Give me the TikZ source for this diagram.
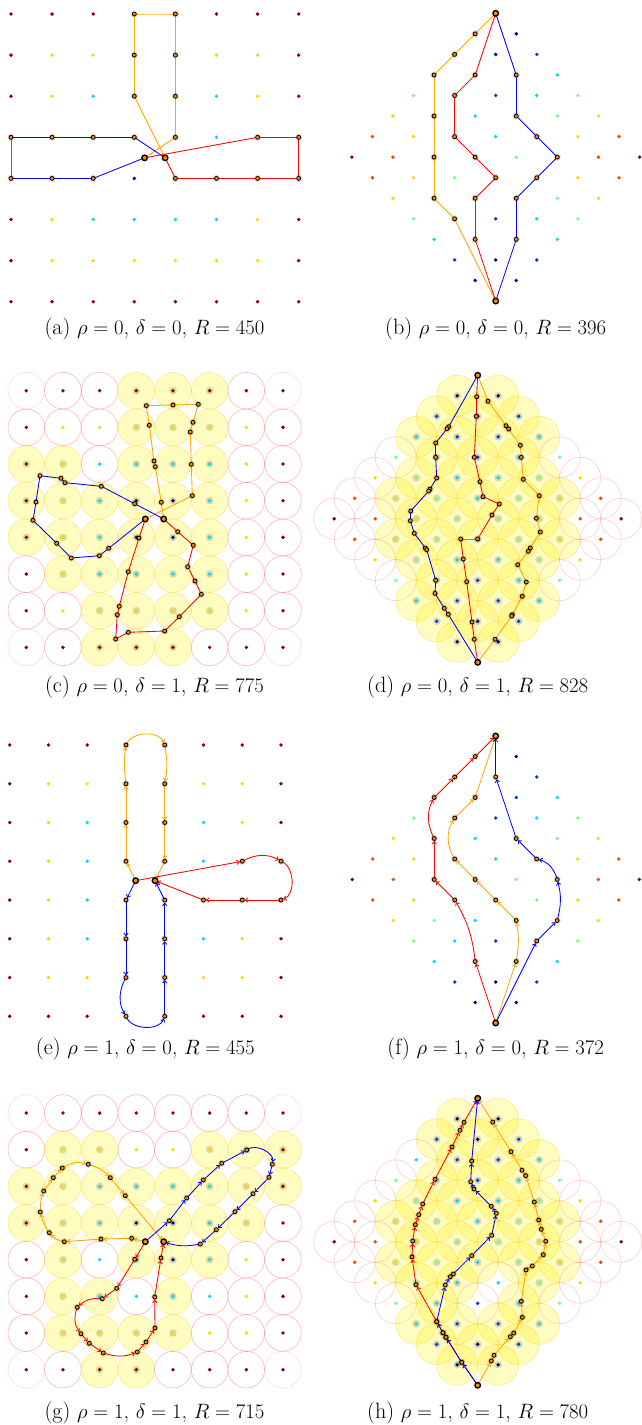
\documentclass[tikz,border=0pt]{standalone}
\usetikzlibrary{arrows.meta}

\pgfdeclarelayer{marks}
\pgfsetlayers{main,marks}

% colour scale of the grid points
\definecolor{jet0}{rgb}{0,0,0.55}
\definecolor{jet1}{rgb}{0,0.22,1}
\definecolor{jet2}{rgb}{0,0.85,1}
\definecolor{jet3}{rgb}{0.48,1,0.5}
\definecolor{jet4}{rgb}{1,0.84,0}
\definecolor{jet5}{rgb}{1,0.27,0}
\definecolor{jet6}{rgb}{0.55,0,0}
\definecolor{pathorange}{rgb}{1,0.65,0}
\definecolor{markorange}{rgb}{1,0.55,0}

\tikzset{
  trailline/.style={line width=0.85pt, line join=round, line cap=round},
  arrowed/.style={-{Straight Barb[length=2.5pt,width=4.4pt]}, shorten >=2.5pt},
  halo/.style={fill=black, fill opacity=0.13},
  mk/.style={draw=black, line width=0.8pt, fill=markorange},
  startmk/.style={draw=black, line width=1.3pt, fill=markorange},
  yellowdisc/.style={fill=yellow, fill opacity=0.25, draw=orange!50!yellow, draw opacity=0.35, line width=0.6pt},
  pinkring/.style={draw=red, draw opacity=0.28, line width=0.6pt},
  paleing/.style={draw=red, draw opacity=0.14, line width=0.6pt},
  dothalo/.style={fill=black, fill opacity=0.14},
  caplabel/.style={anchor=base, inner sep=0pt, font=\fontsize{22.2}{26}\selectfont},
}

% #1 extra style, #2 colour, #3/#4 first point, #5 list x/y/bend
\newcommand{\trail}[5][]{%
  \foreach \tx/\ty/\tb [remember=\tx as \px (initially #3), remember=\ty as \py (initially #4)] in {#5}
    {\draw[trailline,#2,#1] (\px,\py) to[bend left=\tb] (\tx,\ty);}
  \begin{pgfonlayer}{marks}
    \foreach \tx/\ty/\tb in {#3/#4/0,#5}
      {\fill[halo] (\tx,\ty) circle[radius=3.6pt];
       \draw[mk] (\tx,\ty) circle[radius=2pt];}
  \end{pgfonlayer}}

% the two big markers
\newcommand{\bigpins}[4]{%
  \begin{pgfonlayer}{marks}
    \draw[startmk] (#1,#2) circle[radius=2.7pt];
    \draw[startmk] (#3,#4) circle[radius=2.7pt];
  \end{pgfonlayer}}

% 8x8 square grid of dots
\newcommand{\squaredots}{%
  \foreach \cl in {0,...,7} \foreach \rw in {0,...,7}{
    \pgfmathtruncatemacro\lv{2*max(abs(\cl-3.5),abs(\rw-3.5))-1}
    \fill[fill=jet\lv] (\cl,\rw) circle[radius=1.9pt];}}

% discs of the square grid, #1 = rows rw/mask of yellow discs
\newcommand{\squarediscs}[1]{%
  \foreach \rw/\mask in {#1} \foreach \cl in {0,...,7}{
    \pgfmathtruncatemacro\bit{mod(floor(\mask/2^\cl),2)}
    \pgfmathtruncatemacro\corner{and(or(\cl==0,\cl==7),or(\rw==0,\rw==7))}
    \ifnum\bit=1 \filldraw[yellowdisc] (\cl,\rw) circle[radius=18.3pt];
      \fill[dothalo] (\cl,\rw) circle[radius=3.8pt];
    \else
      \ifnum\corner=1 \draw[paleing] (\cl,\rw) circle[radius=18.3pt];
      \else \draw[pinkring] (\cl,\rw) circle[radius=18.3pt]; \fi
    \fi}}

% rotated grid of dots
\newcommand{\diamonddots}{%
  \foreach \u in {0,...,7} \foreach \v in {0,...,7}{
    \pgfmathtruncatemacro\lv{(abs(\u-\v)+7-abs(\u+\v-7))/2-1}
    \ifnum\lv>-1 \fill[fill=jet\lv] (\u,\v) circle[radius=1.9pt]; \fi}}

% discs of the rotated grid, #1 = rows u/mask of pink rings
\newcommand{\diamonddiscs}[1]{%
  \foreach \u/\mask in {#1} \foreach \v in {0,...,7}{
    \pgfmathtruncatemacro\lv{(abs(\u-\v)+7-abs(\u+\v-7))/2-1}
    \pgfmathtruncatemacro\bit{mod(floor(\mask/2^\v),2)}
    \ifnum\lv>-1
      \ifnum\bit=1 \draw[pinkring, draw opacity=0.2] (\u,\v) circle[radius=20.5pt];
      \else \filldraw[yellowdisc] (\u,\v) circle[radius=20.5pt]; \fi
    \fi}
  \foreach \u/\mask in {#1} \foreach \v in {0,...,7}{
    \pgfmathtruncatemacro\lv{(abs(\u-\v)+7-abs(\u+\v-7))/2-1}
    \pgfmathtruncatemacro\bit{mod(floor(\mask/2^\v),2)}
    \ifnum\lv>-1
      \ifnum\bit=0 \fill[dothalo] (\u,\v) circle[radius=3.8pt]; \fi
      \fill[fill=jet\lv] (\u,\v) circle[radius=1.9pt];
    \fi}}

\begin{document}
\begin{tikzpicture}[x=1pt,y=-1pt]
\useasboundingbox (0,0) rectangle (642,1425);

% (a)
\begin{scope}[shift={(11,14)},x=41.1pt,y=-41.1pt]
  \squaredots
  \trail{pathorange}{3.25}{3.5}{4/3/0, 4/2/0, 4/1/0, 4/0/0, 3/0/0, 3/1/0, 3/2/0, 3.75/3.5/0}
  \trail{blue}{3.25}{3.5}{2/4/0, 1/4/0, 0/4/0, 0/3/0, 1/3/0, 2/3/0, 3/3/0, 3.75/3.5/0}
  \trail{red}{3.25}{3.5}{6/3/0, 7/3/0, 7/4/0, 6/4/0, 5/4/0, 4/4/0, 3.75/3.5/0}
  \bigpins{3.25}{3.5}{3.75}{3.5}
\end{scope}
\node[caplabel] (capa) at (154.5,334) {(a) $\rho = 0$, $\delta = 0$, $R = 450$};

% (b)
\begin{scope}[shift={(495.7,13.3)},x={(20.55pt,-20.55pt)},y={(-20.55pt,-20.55pt)}]
  \diamonddots
  \trail{pathorange}{0}{0}{0/1/0, 0/2/0, 0/3/0, 1/4/0, 2/5/0, 3/6/0, 4/6/0, 7/7/0}
  \trail{red}{0}{0}{1/2/0, 1/3/0, 2/4/0, 3/4/0, 4/4/0, 4/5/0, 5/6/0, 7/7/0}
  \trail{blue}{0}{0}{2/1/0, 3/2/0, 4/2/0, 5/2/0, 5/3/0, 5/4/0, 6/5/0, 7/7/0}
  \bigpins{0}{0}{7}{7}
\end{scope}
\node[caplabel] (capb) at (495.7,334) {(b) $\rho = 0$, $\delta = 0$, $R = 396$};

% (c)
\begin{scope}[shift={(26.3,390.7)},x=36.67pt,y=-36.67pt]
  \squarediscs{0/56, 1/56, 2/59, 3/63, 4/63, 5/62, 6/60, 7/28}
  \squaredots
\end{scope}
\trail{pathorange}{145.3}{519}{192.3/495.7/0, 191.3/464.3/0, 190.3/432/0, 193/422.3/0, 198.3/404.3/0,
  173/405/0, 146.3/405.7/0, 149.3/425.3/0, 154/461/0, 155.3/466.7/0, 161.3/502.3/0, 163.7/519/0}
\trail{blue}{163.7}{519}{134.7/503.7/0, 101.3/486.3/0, 65/482.7/0, 61/478.3/0, 40/475.7/0, 36/502/0,
  33/520.3/0, 56.7/543.3/0, 71.3/558/0, 99.3/555.7/0, 108.7/548.3/0, 145.3/519/0}
\trail{red}{145.3}{519}{139/538/0, 128.3/571.7/0, 119.3/606.3/0, 117.3/614.7/0, 115.7/639/0, 128.3/632.3/0,
  164.7/631/0, 179.3/616.7/0, 201.3/594.3/0, 195/581/0, 187.7/566.7/0, 193.3/545.3/0, 177.7/531.7/0, 163.7/519/0}
\bigpins{145.3}{519}{163.7}{519}
\node[caplabel] (capc) at (154.5,692) {(c) $\rho = 0$, $\delta = 1$, $R = 775$};

% (d)
\begin{scope}[shift={(477.7,375.3)},x={(20.5pt,-20.5pt)},y={(-20.5pt,-20.5pt)}]
  \diamonddiscs{0/240, 1/192, 2/128, 3/128, 4/1, 5/1, 6/3, 7/15}
\end{scope}
\trail{blue}{477.7}{375.3}{448.7/426.7/0, 447/428.7/0, 435.7/443/0, 435.7/457.3/0, 436.7/478/0, 430/489/0,
  428.7/491/0, 410.7/511/0, 410.3/520.7/0, 414.3/533.3/0, 425.3/548/0, 426.7/549.7/0, 435.7/580.3/0,
  435/593.3/0, 444.3/608.3/0, 448.3/614.3/0, 477.7/662.3/0}
\trail{red}{477.7}{375.3}{476.7/396.7/0, 476.3/416.3/0, 474.3/457.3/0, 480/481.7/0, 483/496.7/0,
  499.3/504/0, 492/515/0, 477.7/539/0, 460.7/539/0, 463.3/559/0, 466.7/581.7/0, 472/622/0,
  474.3/639.3/0, 477.7/662.3/0}
\trail{pathorange}{477.7}{375.3}{488/401.3/0, 506/425.7/0, 508.7/429/0, 520.3/445.3/0, 521.3/457.3/0,
  523.3/479.3/0, 539.3/495.7/0, 536.3/518.3/0, 540.3/532/0, 530.3/548/0, 528.3/551.3/0, 517.7/564.7/0,
  526.3/582/0, 522.3/596.3/0, 512.3/614.7/0, 511.7/616/0, 495/639.3/0, 477.7/662.3/0}
\bigpins{477.7}{375.3}{477.7}{662.3}
\node[caplabel] (capd) at (477.7,692) {(d) $\rho = 0$, $\delta = 1$, $R = 828$};

% (e)
\begin{scope}[shift={(9.7,745)},x=38.76pt,y=-38.76pt]
  \squaredots
  \trail[arrowed]{pathorange}{3.25}{3.5}{3/3/0, 3/2/0, 3/1/0, 3/0/8, 4/0/70, 4/1/10, 4/2/0, 4/3/0, 3.75/3.5/0}
  \trail[arrowed]{red}{3.25}{3.5}{6/3/0, 7/3/30, 7/4/70, 6/4/0, 5/4/0, 3.75/3.5/0}
  \trail[arrowed]{blue}{3.25}{3.5}{3/4/0, 3/5/0, 3/6/0, 3/7/-30, 4/7/-70, 4/6/0, 4/5/0, 4/4/0, 3.75/3.5/0}
  \bigpins{3.25}{3.5}{3.75}{3.5}
\end{scope}
\node[caplabel] (cape) at (145.3,1054) {(e) $\rho = 1$, $\delta = 0$, $R = 455$};

% (f)
\begin{scope}[shift={(495.7,736)},x={(20.5pt,-20.5pt)},y={(-20.5pt,-20.5pt)}]
  \diamonddots
  \trail[arrowed]{red}{7}{7}{5/6/0, 3/5/-12, 2/5/0, 1/4/0, 0/3/28, 0/2/0, 0/1/0, 0/0/0}
  \trail[arrowed]{pathorange}{7}{7}{6/5/0, 5/4/-10, 4/4/0, 3/4/0, 2/4/0, 1/3/32, 1/2/0, 0/0/0}
  \trail[arrowed]{blue}{7}{7}{6/4/0, 6/3/0, 5/2/-15, 4/2/-30, 3/2/0, 1/1/0, 0/0/0}
  \bigpins{0}{0}{7}{7}
\end{scope}
\node[caplabel] (capf) at (495.7,1054) {(f) $\rho = 1$, $\delta = 0$, $R = 372$};

% (g)
\begin{scope}[shift={(26.3,1113)},x=36.67pt,y=-36.67pt]
  \squarediscs{0/0, 1/230, 2/255, 3/127, 4/58, 5/22, 6/30, 7/12}
  \squaredots
\end{scope}
\trail[arrowed]{pathorange}{145.3}{1241.7}{131.7/1238.3/0, 101/1239/0, 64.3/1241.7/0, 49.3/1232.7/20,
  40.3/1212/10, 43.7/1191/10, 53.3/1177.7/0, 62.3/1168/0, 88.3/1164.3/25, 110.3/1177.7/15,
  125.3/1195.7/0, 163.7/1241.7/0}
\trail[arrowed]{blue}{145.3}{1241.7}{169.3/1220.7/0, 186.7/1198/0, 203.3/1180/0, 221.7/1163.3/0,
  246.7/1150/0, 272.3/1164.3/70, 269/1177.3/0, 253/1193.7/0, 235/1211.7/0, 216.3/1229.7/0,
  200.3/1244/0, 163.7/1241.7/15}
\trail[arrowed]{red}{145.3}{1241.7}{134.7/1259.3/0, 116.7/1288.3/0, 102.3/1298.7/0, 77.3/1307.3/-25,
  81/1333.7/-30, 89.3/1343.3/0, 103.3/1353/0, 137.3/1352/-20, 146/1342/0, 155/1328/0,
  154.7/1297/0, 161/1258/0, 163.7/1241.7/0}
\bigpins{145.3}{1241.7}{163.7}{1241.7}
\node[caplabel] (capg) at (154.5,1418) {(g) $\rho = 1$, $\delta = 1$, $R = 715$};

% (h)
\begin{scope}[shift={(477.7,1098.3)},x={(20.5pt,-20.5pt)},y={(-20.5pt,-20.5pt)}]
  \diamonddiscs{0/248, 1/192, 2/128, 3/128, 4/1, 5/49, 6/3, 7/15}
\end{scope}
\trail[arrowed]{red}{477.7}{1385.3}{461.7/1362.3/0, 446/1337.3/0, 443/1332.7/0, 436.7/1321.7/0,
  416/1284.7/0, 412/1257/0, 412.7/1241/0, 415.3/1224.7/0, 418.7/1214.7/0, 422.7/1204/0,
  435/1179.3/0, 452/1147/0, 460/1130.3/0, 464/1122.3/0, 477.7/1098.3/0}
\trail[arrowed]{pathorange}{477.7}{1385.3}{491.3/1361/0, 494/1355.3/0, 510.3/1336.7/0, 513.7/1333/0,
  522.3/1317.3/0, 521.3/1301.3/0, 526/1270/0, 532.3/1266/0, 543.3/1254.7/0, 545.7/1241.3/0,
  541.3/1229.3/0, 538.7/1220/0, 534.3/1202/0, 525.7/1175.7/0, 522/1170.3/0, 511/1151.7/0,
  492.7/1122/0, 477.7/1098.3/0}
\trail[arrowed]{blue}{477.7}{1385.3}{461.7/1362.3/0, 446/1337.3/0, 443/1332.7/0, 436.7/1321.7/0,
  445.3/1285/0, 450.3/1276.7/0, 453.3/1274/0, 471.7/1255.7/0, 491.7/1235.3/0, 496.3/1213.3/0,
  491.3/1206.3/0, 474/1189/0, 470.7/1181.7/0, 471.7/1161/0, 477.7/1098.3/0}
\bigpins{477.7}{1385.3}{477.7}{1098.3}
\node[caplabel] (caph) at (477.7,1418) {(h) $\rho = 1$, $\delta = 1$, $R = 780$};
\end{tikzpicture}
\end{document}
